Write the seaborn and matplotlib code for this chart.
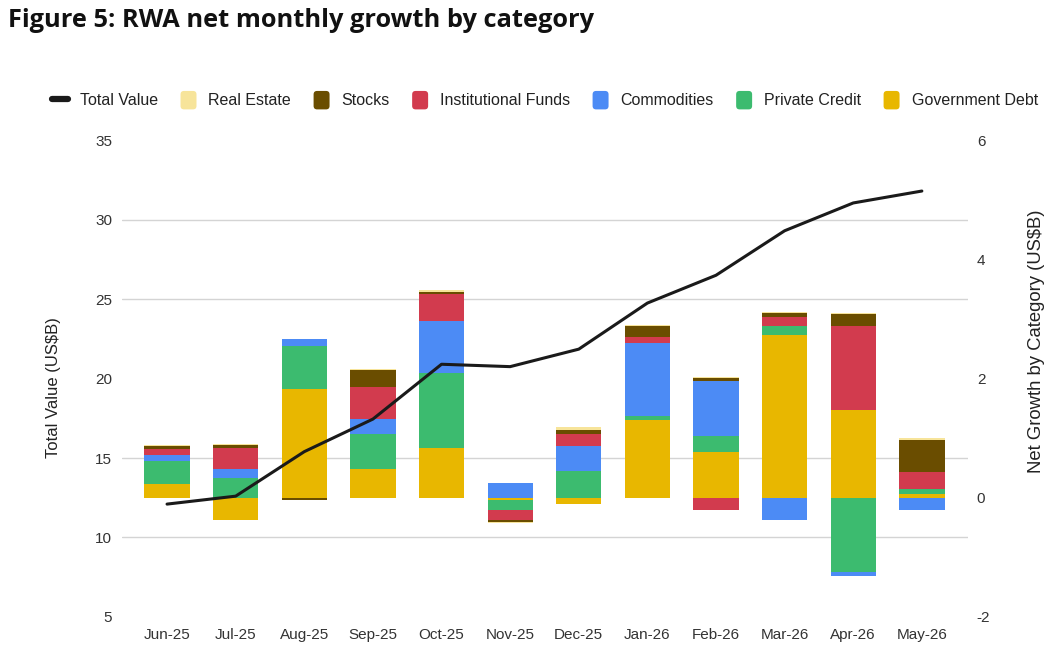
import numpy as np
import pandas as pd
import matplotlib
matplotlib.use("Agg")
import matplotlib.pyplot as plt
from matplotlib.lines import Line2D
from matplotlib.patches import FancyBboxPatch
from matplotlib.legend_handler import HandlerPatch
import seaborn as sns

months = ['Jun-25', 'Jul-25', 'Aug-25', 'Sep-25', 'Oct-25', 'Nov-25',
          'Dec-25', 'Jan-26', 'Feb-26', 'Mar-26', 'Apr-26', 'May-26']
total_value = [12.1, 12.6, 15.4, 17.45, 20.9, 20.75, 21.85, 24.75, 26.5, 29.3, 31.05, 31.8]
gov_debt = [0.23, -0.38, 1.82, 0.48, 0.84, -0.03, -0.11, 1.30, 0.77, 2.73, 1.47, 0.06]
private_credit = [0.38, 0.33, 0.72, 0.59, 1.26, -0.18, 0.45, 0.08, 0.27, 0.15, -1.24, 0.085]
commodities = [0.11, 0.15, 0.13, 0.25, 0.86, 0.24, 0.41, 1.22, 0.92, -0.38, -0.07, -0.20]
inst_funds = [0.09, 0.36, 0.0, 0.53, 0.46, -0.16, 0.21, 0.09, -0.20, 0.15, 1.41, 0.28]
stocks = [0.05, 0.05, -0.03, 0.30, 0.04, -0.04, 0.06, 0.20, 0.05, 0.07, 0.20, 0.55]
real_estate = [0.02, 0.02, 0.0, 0.01, 0.02, -0.01, 0.05, 0.01, 0.02, 0.02, 0.02, 0.02]

# stacking order bottom -> top
series = [
    ('Government Debt', gov_debt, '#E8B700'),
    ('Private Credit', private_credit, '#3CBB6F'),
    ('Commodities', commodities, '#4C8BF5'),
    ('Institutional Funds', inst_funds, '#D23B4E'),
    ('Stocks', stocks, '#6A4D00'),
    ('Real Estate', real_estate, '#F7E49A'),
]

sns.set_theme(style="white")
plt.rcParams['font.family'] = ['Liberation Sans', 'DejaVu Sans']
plt.rcParams['axes.unicode_minus'] = False

fig = plt.figure(figsize=(10.52, 6.46), dpi=100)
ax = fig.add_axes([0.116, 0.045, 0.804, 0.738])
ax2 = ax.twinx()

# stacked bars on the right axis, positives up and negatives down
pos_base = np.zeros(len(months))
neg_base = np.zeros(len(months))
for name, vals, col in series:
    vals = np.array(vals, dtype=float)
    bottom = np.where(vals >= 0, pos_base, neg_base)
    df = pd.DataFrame({'month': months, 'value': vals})
    sns.barplot(data=df, x='month', y='value', bottom=bottom, color=col,
                saturation=1, width=0.66, errorbar=None, ax=ax2, linewidth=0)
    pos_base = pos_base + np.clip(vals, 0, None)
    neg_base = neg_base + np.clip(vals, None, 0)

# total value line on the left axis
line_df = pd.DataFrame({'pos': np.arange(len(months)), 'total': total_value})
sns.lineplot(data=line_df, x='pos', y='total', color='#1a1a1a', linewidth=2.2, ax=ax)

ax.set_zorder(ax2.get_zorder() + 1)
ax.patch.set_visible(False)

left_ticks = [5, 10, 15, 20, 25, 30, 35]
ax.set_ylim(5, 35)
ax.set_yticks(left_ticks)
ax2.set_ylim(-2, 6)
ax2.set_yticks([-2, 0, 2, 4, 6])

# gridlines follow the left axis but sit behind the bars
grid_pos = [-2 + (t - 5) * 8 / 30 for t in left_ticks]
ax2.set_yticks(grid_pos, minor=True)
ax2.grid(False, which='major')
ax2.grid(True, which='minor', axis='y', color='#d4d4d4', linewidth=1)
ax2.set_axisbelow(True)
ax2.tick_params(which='minor', length=0)
ax.grid(False)

ax.set_xlim(-0.656, 11.67)
ax.set_xticks(np.arange(len(months)))
ax.set_xticklabels(months)

for a in (ax, ax2):
    for s in a.spines.values():
        s.set_visible(False)
    a.tick_params(length=0, labelsize=11, colors='#333333')
ax.tick_params(axis='x', pad=8)
ax.tick_params(axis='y', pad=7)
ax2.tick_params(axis='y', pad=6.5)

ax.set_xlabel('')
ax2.set_xlabel('')
ax.set_ylabel('Total Value (US$B)', fontsize=12, color='#222222')
ax2.set_ylabel('Net Growth by Category (US$B)', fontsize=13.3, color='#222222')
ax2.yaxis.set_label_position('right')
ax.yaxis.set_label_coords(-0.072, 0.482)
ax2.yaxis.set_label_coords(1.071, 0.579)


def rounded_box(legend, orig_handle, xdescent, ydescent, width, height, fontsize):
    return FancyBboxPatch((-xdescent, -ydescent - 2), width, height + 3,
                          boxstyle='round,pad=0,rounding_size=2.5')


handles = [Line2D([0], [0], color='#1a1a1a', lw=4.5, solid_capstyle='round')]
labels = ['Total Value']
for name, vals, col in reversed(series):
    handles.append(FancyBboxPatch((0, 0), 1, 1, facecolor=col, edgecolor='none'))
    labels.append(name)
fig.legend(handles, labels, loc='center', bbox_to_anchor=(0.518, 0.845), ncol=7,
           frameon=False, fontsize=11.5, handlelength=1.0, handleheight=1.0,
           handletextpad=0.75, columnspacing=1.4, labelcolor='#222222',
           handler_map={FancyBboxPatch: HandlerPatch(patch_func=rounded_box)})

fig.text(0.008, 0.988, 'Figure 5: RWA net monthly growth by category',
         fontsize=18.3, fontweight='bold', family='Open Sans', va='top', ha='left',
         color='#111111')

fig.savefig('out.png', dpi=100)
